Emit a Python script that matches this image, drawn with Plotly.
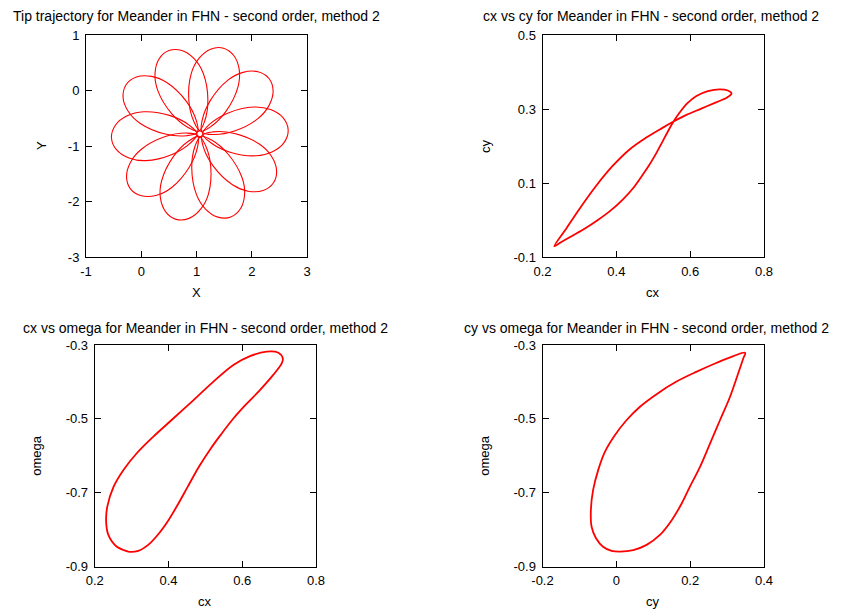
import plotly.graph_objects as go

# ---------------- data ----------------
# Tip trajectory: ten petals, each listed as a closed loop that starts and ends near the centre
tip_x_petals = [
    [1.110, 1.233, 1.564, 2.040, 2.342, 2.569, 2.659, 2.588, 2.375, 2.078, 1.595, 1.247, 1.110],
    [1.099, 1.101, 1.249, 1.569, 1.841, 2.113, 2.312, 2.387, 2.314, 2.117, 1.685, 1.301, 1.099],
    [1.073, 0.954, 0.862, 0.903, 1.041, 1.254, 1.488, 1.678, 1.774, 1.751, 1.536, 1.262, 1.073],
    [1.043, 0.847, 0.550, 0.298, 0.249, 0.322, 0.500, 0.734, 0.961, 1.122, 1.206, 1.147, 1.043],
    [1.018, 0.822, 0.433, -0.017, -0.234, -0.329, -0.274, -0.086, 0.186, 0.469, 0.820, 0.998, 1.018],
    [1.010, 0.887, 0.556, 0.080, -0.222, -0.449, -0.539, -0.468, -0.255, 0.042, 0.525, 0.873, 1.010],
    [1.021, 1.019, 0.871, 0.551, 0.279, 0.007, -0.192, -0.267, -0.194, 0.003, 0.435, 0.819, 1.021],
    [1.047, 1.166, 1.258, 1.217, 1.079, 0.866, 0.632, 0.442, 0.346, 0.369, 0.584, 0.858, 1.047],
    [1.077, 1.273, 1.570, 1.822, 1.871, 1.798, 1.620, 1.386, 1.159, 0.998, 0.914, 0.973, 1.077],
    [1.102, 1.298, 1.687, 2.137, 2.354, 2.449, 2.394, 2.206, 1.934, 1.651, 1.300, 1.122, 1.102],
]
tip_y_petals = [
    [-0.778, -0.612, -0.408, -0.297, -0.344, -0.494, -0.710, -0.934, -1.103, -1.176, -1.107, -0.932, -0.778],
    [-0.749, -0.543, -0.182, 0.187, 0.327, 0.338, 0.216, -0.006, -0.268, -0.502, -0.730, -0.793, -0.749],
    [-0.732, -0.564, -0.185, 0.301, 0.574, 0.744, 0.762, 0.626, 0.371, 0.066, -0.372, -0.649, -0.732],
    [-0.733, -0.667, -0.416, 0.003, 0.305, 0.567, 0.719, 0.721, 0.571, 0.311, -0.170, -0.555, -0.733],
    [-0.752, -0.814, -0.785, -0.595, -0.379, -0.125, 0.103, 0.242, 0.254, 0.139, -0.201, -0.547, -0.752],
    [-0.782, -0.948, -1.152, -1.263, -1.216, -1.066, -0.850, -0.626, -0.457, -0.384, -0.453, -0.628, -0.782],
    [-0.811, -1.017, -1.378, -1.747, -1.887, -1.898, -1.776, -1.554, -1.292, -1.058, -0.830, -0.767, -0.811],
    [-0.828, -0.996, -1.375, -1.861, -2.134, -2.304, -2.322, -2.186, -1.931, -1.626, -1.188, -0.911, -0.828],
    [-0.827, -0.893, -1.144, -1.563, -1.865, -2.127, -2.279, -2.281, -2.131, -1.871, -1.390, -1.005, -0.827],
    [-0.808, -0.746, -0.775, -0.965, -1.181, -1.435, -1.663, -1.802, -1.814, -1.699, -1.359, -1.013, -0.808],
]

# cx vs cy (figure-eight loop)
cxcy_cx = [0.232, 0.265, 0.300, 0.345, 0.390, 0.435, 0.480, 0.525, 0.555, 0.590, 0.630, 0.670, 0.700,
           0.712, 0.702, 0.680, 0.648, 0.617, 0.592, 0.572, 0.555, 0.540, 0.525, 0.508, 0.490, 0.470,
           0.447, 0.418, 0.385, 0.350, 0.315, 0.280, 0.250, 0.232]
cxcy_cy = [-0.071, -0.022, 0.030, 0.092, 0.146, 0.190, 0.222, 0.249, 0.266, 0.284, 0.301, 0.318, 0.331,
           0.342, 0.350, 0.353, 0.348, 0.335, 0.315, 0.291, 0.266, 0.240, 0.212, 0.180, 0.150, 0.120,
           0.088, 0.056, 0.026, 0.000, -0.023, -0.043, -0.060, -0.071]

# cx vs omega
cxom_cx = [0.291, 0.260, 0.237, 0.231, 0.234, 0.251, 0.278, 0.314, 0.359, 0.413, 0.468, 0.522, 0.576,
           0.621, 0.666, 0.698, 0.710, 0.707, 0.684, 0.648, 0.613, 0.576, 0.541, 0.512, 0.483, 0.452,
           0.427, 0.400, 0.374, 0.345, 0.318, 0.291, 0.260]
cxom_om = [-0.859, -0.846, -0.814, -0.778, -0.738, -0.684, -0.638, -0.593, -0.548, -0.499, -0.449, -0.399, -0.354,
           -0.330, -0.318, -0.321, -0.336, -0.350, -0.381, -0.422, -0.458, -0.499, -0.544, -0.584, -0.629, -0.684,
           -0.729, -0.774, -0.810, -0.841, -0.857, -0.859, -0.846]

# cy vs omega (teardrop)
cyom_cy = [0.349, 0.317, 0.272, 0.218, 0.163, 0.109, 0.064, 0.028, -0.004, -0.031, -0.049, -0.063, -0.069,
           -0.067, -0.055, -0.036, -0.013, 0.010, 0.046, 0.082, 0.118, 0.150, 0.177, 0.199, 0.227, 0.254,
           0.281, 0.308, 0.330, 0.344, 0.349]
cyom_om = [-0.321, -0.330, -0.348, -0.372, -0.399, -0.433, -0.467, -0.503, -0.544, -0.589, -0.638, -0.693, -0.747,
           -0.792, -0.823, -0.846, -0.857, -0.859, -0.855, -0.841, -0.814, -0.774, -0.729, -0.684, -0.629, -0.566,
           -0.503, -0.440, -0.377, -0.336, -0.321]

titles = [
    "Tip trajectory for Meander in FHN - second order, method 2",
    "cx vs cy for Meander in FHN - second order, method 2",
    "cx vs omega for Meander in FHN - second order, method 2",
    "cy vs omega for Meander in FHN - second order, method 2",
]
x_labels = ["X", "cx", "cx", "cy"]
y_labels = ["Y", "cy", "omega", "omega"]

x_ticks = [[-1, 0, 1, 2, 3], [0.2, 0.4, 0.6, 0.8], [0.2, 0.4, 0.6, 0.8], [-0.2, 0, 0.2, 0.4]]
x_ticktext = [["-1", "0", "1", "2", "3"], ["0.2", "0.4", "0.6", "0.8"], ["0.2", "0.4", "0.6", "0.8"], ["-0.2", "0", "0.2", "0.4"]]
y_ticks = [[-3, -2, -1, 0, 1], [-0.1, 0.1, 0.3, 0.5], [-0.9, -0.7, -0.5, -0.3], [-0.9, -0.7, -0.5, -0.3]]
y_ticktext = [["-3", "-2", "-1", "0", "1"], ["-0.1", "0.1", "0.3", "0.5"], ["-0.9", "-0.7", "-0.5", "-0.3"], ["-0.9", "-0.7", "-0.5", "-0.3"]]
x_ranges = [[-1, 3], [0.2, 0.8], [0.2, 0.8], [-0.2, 0.4]]
y_ranges = [[-3, 1], [-0.1, 0.5], [-0.9, -0.3], [-0.9, -0.3]]

# ---------------- layout geometry ----------------
# the page body adds an 8px offset, so the figure is 8px smaller and all
# screen positions below are converted with that offset
OFF = 8
W, H = 841 - OFF, 612 - OFF


def fx(x):
    return (x - OFF) / W


def fy(y):
    return 1 - (y - OFF) / H


boxes = [  # left, right, top, bottom in screen pixels
    (86, 307, 35, 257),
    (542.5, 764, 35, 257),
    (94.7, 316, 345, 566.7),
    (542.5, 764, 345, 566.7),
]
title_xy = [(196.5, 16), (651, 16), (205, 328), (646, 328)]
ylab_x = [42, 486, 37, 485]

RED = "#ff0000"
fig = go.Figure()

px, py = [], []
for xs, ys in zip(tip_x_petals, tip_y_petals):
    px += xs + [None]
    py += ys + [None]
fig.add_trace(go.Scatter(x=px, y=py, mode="lines", line=dict(color=RED, width=1.1, shape="spline", smoothing=1.0),
                         xaxis="x", yaxis="y", hoverinfo="skip"))
fig.add_trace(go.Scatter(x=cxcy_cx, y=cxcy_cy, mode="lines", line=dict(color=RED, width=1.8, shape="spline", smoothing=1.0),
                         xaxis="x2", yaxis="y2", hoverinfo="skip"))
fig.add_trace(go.Scatter(x=cxom_cx, y=cxom_om, mode="lines", line=dict(color=RED, width=1.8, shape="spline", smoothing=1.0),
                         xaxis="x3", yaxis="y3", hoverinfo="skip"))
fig.add_trace(go.Scatter(x=cyom_cy, y=cyom_om, mode="lines", line=dict(color=RED, width=1.8, shape="spline", smoothing=1.0),
                         xaxis="x4", yaxis="y4", hoverinfo="skip"))

FONT = "Liberation Sans, Arial, sans-serif"
layout = dict(
    width=W, height=H, margin=dict(l=0, r=0, t=0, b=0, autoexpand=False),
    paper_bgcolor="white", plot_bgcolor="white", showlegend=False,
    font=dict(family=FONT, size=13, color="black"),
)
annotations = []
for i in range(4):
    l, r, t, b = boxes[i]
    sx = "" if i == 0 else str(i + 1)
    common = dict(showline=True, linecolor="black", linewidth=1, mirror="ticks", ticks="inside",
                  ticklen=6, tickcolor="black", showgrid=False, zeroline=False, automargin=False,
                  tickfont=dict(family=FONT, size=13, color="black"))
    layout["xaxis" + sx] = dict(domain=[fx(l), fx(r)], range=x_ranges[i], tickvals=x_ticks[i],
                                ticktext=x_ticktext[i], anchor="y" + sx, ticklabelstandoff=2, **common)
    layout["yaxis" + sx] = dict(domain=[fy(b), fy(t)], range=y_ranges[i], tickvals=y_ticks[i],
                                ticktext=y_ticktext[i], anchor="x" + sx, ticklabelstandoff=3, **common)
    tx, ty = title_xy[i]
    annotations.append(dict(text=titles[i], x=fx(tx), y=fy(ty), xref="paper", yref="paper",
                            showarrow=False, xanchor="center", yanchor="middle",
                            font=dict(family=FONT, size=14, color="black")))
    annotations.append(dict(text=x_labels[i], x=fx((l + r) / 2), y=fy(b + 35), xref="paper", yref="paper",
                            showarrow=False, xanchor="center", yanchor="middle",
                            font=dict(family=FONT, size=13, color="black")))
    annotations.append(dict(text=y_labels[i], x=fx(ylab_x[i]), y=fy((t + b) / 2), xref="paper", yref="paper",
                            showarrow=False, xanchor="center", yanchor="middle", textangle=-90,
                            font=dict(family=FONT, size=13, color="black")))
layout["annotations"] = annotations
fig.update_layout(**layout)
fig.write_html("out.html")
